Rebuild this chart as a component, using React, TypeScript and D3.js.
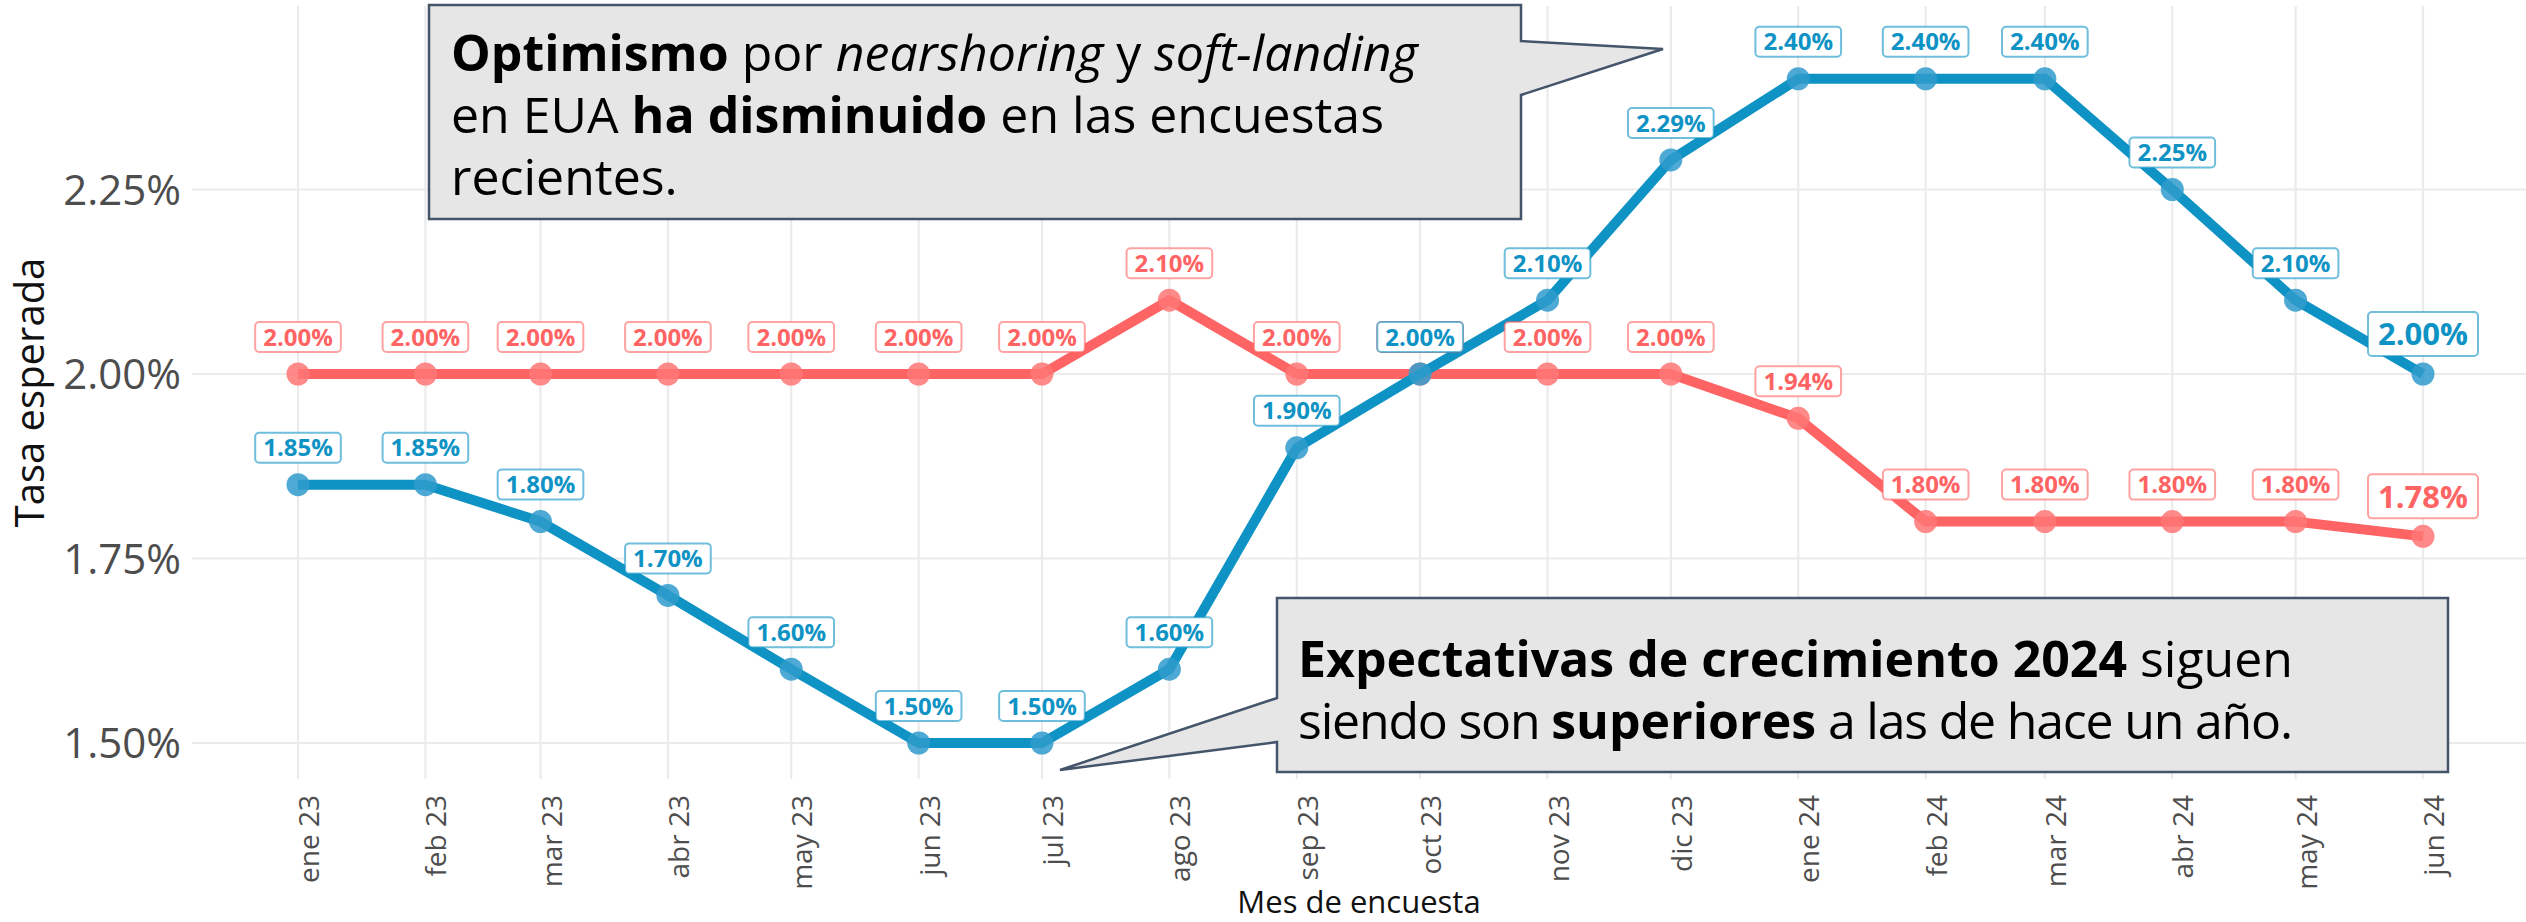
import React, { useEffect, useRef } from "react";
import * as d3 from "d3";

const surveyMonths = [
  "2023-01-01", "2023-02-01", "2023-03-01", "2023-04-01", "2023-05-01", "2023-06-01",
  "2023-07-01", "2023-08-01", "2023-09-01", "2023-10-01", "2023-11-01", "2023-12-01",
  "2024-01-01", "2024-02-01", "2024-03-01", "2024-04-01", "2024-05-01", "2024-06-01",
];
const monthLabels = [
  "ene 23", "feb 23", "mar 23", "abr 23", "may 23", "jun 23", "jul 23", "ago 23", "sep 23",
  "oct 23", "nov 23", "dic 23", "ene 24", "feb 24", "mar 24", "abr 24", "may 24", "jun 24",
];
const tasaRoja = [2.0, 2.0, 2.0, 2.0, 2.0, 2.0, 2.0, 2.1, 2.0, 2.0, 2.0, 2.0, 1.94, 1.8, 1.8, 1.8, 1.8, 1.78];
const tasaAzul = [1.85, 1.85, 1.8, 1.7, 1.6, 1.5, 1.5, 1.6, 1.9, 2.0, 2.1, 2.29, 2.4, 2.4, 2.4, 2.25, 2.1, 2.0];
const yTicks = [1.5, 1.75, 2.0, 2.25];

const W = 2526;
const H = 922;
const FONT = "'Open Sans', 'Noto Sans', sans-serif";

export default function App() {
  const ref = useRef<SVGSVGElement | null>(null);

  useEffect(() => {
    const svg = d3.select(ref.current);
    svg.selectAll("*").remove();

    const dates = surveyMonths.map((s) => d3.utcParse("%Y-%m-%d")(s) as Date);
    const x = d3.scaleUtc().domain([dates[0], dates[dates.length - 1]]).range([298, 2423]);
    const y = d3.scaleLinear().domain([1.5, 2.0]).range([743, 374]);
    const panel = { left: 192, right: W, top: 6, bottom: 779 };

    // grid
    const grid = svg.append("g");
    grid.selectAll("line.h").data(yTicks).join("line")
      .attr("x1", panel.left).attr("x2", panel.right)
      .attr("y1", (d) => y(d)).attr("y2", (d) => y(d))
      .attr("stroke", "#ebebeb").attr("stroke-width", 2.2);
    grid.selectAll("line.v").data(dates).join("line")
      .attr("x1", (d) => x(d)).attr("x2", (d) => x(d))
      .attr("y1", panel.top).attr("y2", panel.bottom)
      .attr("stroke", "#ebebeb").attr("stroke-width", 2.2);

    // y axis labels
    svg.append("g").selectAll("text").data(yTicks).join("text")
      .attr("x", 181).attr("y", (d) => y(d))
      .attr("dy", "0.36em")
      .attr("text-anchor", "end")
      .attr("font-family", FONT).attr("font-size", 42).attr("fill", "#4d4d4d")
      .text((d) => d3.format(".2f")(d) + "%");

    // x axis labels
    svg.append("g").selectAll("text").data(dates).join("text")
      .attr("transform", (d) => `translate(${x(d) + 21},795) rotate(-90)`)
      .attr("text-anchor", "end")
      .attr("font-family", FONT).attr("font-size", 28).attr("fill", "#4d4d4d")
      .text((_, i) => monthLabels[i]);

    // axis titles
    svg.append("text")
      .attr("transform", `translate(44,${(panel.top + panel.bottom) / 2}) rotate(-90)`)
      .attr("text-anchor", "middle")
      .attr("font-family", FONT).attr("font-size", 40).attr("fill", "#111")
      .text("Tasa esperada");
    svg.append("text")
      .attr("x", (panel.left + panel.right) / 2).attr("y", 913)
      .attr("text-anchor", "middle")
      .attr("font-family", FONT).attr("font-size", 31).attr("fill", "#111")
      .text("Mes de encuesta");

    // annotation callouts
    const boxFill = "#e6e6e6";
    const boxStroke = "#44546a";
    svg.append("path")
      .attr("d", "M429,5 H1521 V41 L1663,49 L1521,95 V219 H429 Z")
      .attr("fill", boxFill).attr("stroke", boxStroke).attr("stroke-width", 2.5);
    svg.append("path")
      .attr("d", "M1277,598 H2448 V772 H1277 V742 L1060,770 L1277,698 Z")
      .attr("fill", boxFill).attr("stroke", boxStroke).attr("stroke-width", 2.5);

    const rich = (xx: number, yy: number, parts: [string, string][], ls = 0) => {
      const t = svg.append("text").attr("x", xx).attr("y", yy)
        .attr("font-family", FONT).attr("font-size", 50).attr("fill", "#000");
      parts.forEach(([style, s]) => {
        const sp = t.append("tspan").text(s);
        if (style.includes("b")) sp.attr("font-weight", 700);
        if (style.includes("i")) sp.attr("font-style", "italic");
        if (ls && !style.includes("b")) sp.attr("letter-spacing", ls);
      });
    };
    rich(451, 71, [["b", "Optimismo"], ["", " por "], ["i", "nearshoring"], ["", " y "], ["i", "soft-landing"]]);
    rich(451, 133, [["", "en EUA "], ["b", "ha disminuido"], ["", " en las encuestas"]]);
    rich(451, 195, [["", "recientes."]]);
    rich(1298, 677, [["b", "Expectativas de crecimiento 2024"], ["", " siguen"]]);
    rich(1298, 739, [["", "siendo son "], ["b", "superiores"], ["", " a las de hace un año."]], -1.2);

    const series = [
      { values: tasaRoja, color: "#ff6464", point: "#ff7676" },
      { values: tasaAzul, color: "#0f93c4", point: "#2f9bcc" },
    ];

    const line = d3.line<number>()
      .x((_, i) => x(dates[i]))
      .y((v) => y(v));

    series.forEach((s) => {
      svg.append("path")
        .attr("d", line(s.values) as string)
        .attr("fill", "none").attr("stroke", s.color)
        .attr("stroke-width", 10).attr("stroke-linejoin", "round");
      svg.append("g").selectAll("circle").data(s.values).join("circle")
        .attr("cx", (_, i) => x(dates[i])).attr("cy", (v) => y(v))
        .attr("r", 11.5).attr("fill", s.point).attr("opacity", 0.85);
    });

    series.forEach((s) => {
      const n = s.values.length;
      s.values.forEach((v, i) => {
        const last = i === n - 1;
        const fs = last ? 31 : 24;
        const off = last ? 40 : 37;
        const g = svg.append("g")
          .attr("transform", `translate(${x(dates[i])},${y(v) - off})`);
        const rect = g.append("rect");
        const t = g.append("text")
          .attr("text-anchor", "middle").attr("dy", "0.36em")
          .attr("font-family", FONT).attr("font-weight", 700)
          .attr("font-size", fs).attr("fill", s.color)
          .text(d3.format(".2f")(v) + "%");
        const bw = (t.node() as SVGTextElement).getComputedTextLength();
        const padX = last ? 10 : 8;
        const h = last ? 44 : 30;
        rect.attr("x", -bw / 2 - padX).attr("y", -h / 2)
          .attr("width", bw + 2 * padX).attr("height", h)
          .attr("rx", 4).attr("fill", "#fff")
          .attr("stroke", s.color).attr("stroke-opacity", 0.6).attr("stroke-width", 2);
      });
    });
  }, []);

  return (
    <svg
      ref={ref}
      width={W}
      height={H}
      style={{ position: "absolute", left: 0, top: 0, background: "#fff" }}
    />
  );
}
